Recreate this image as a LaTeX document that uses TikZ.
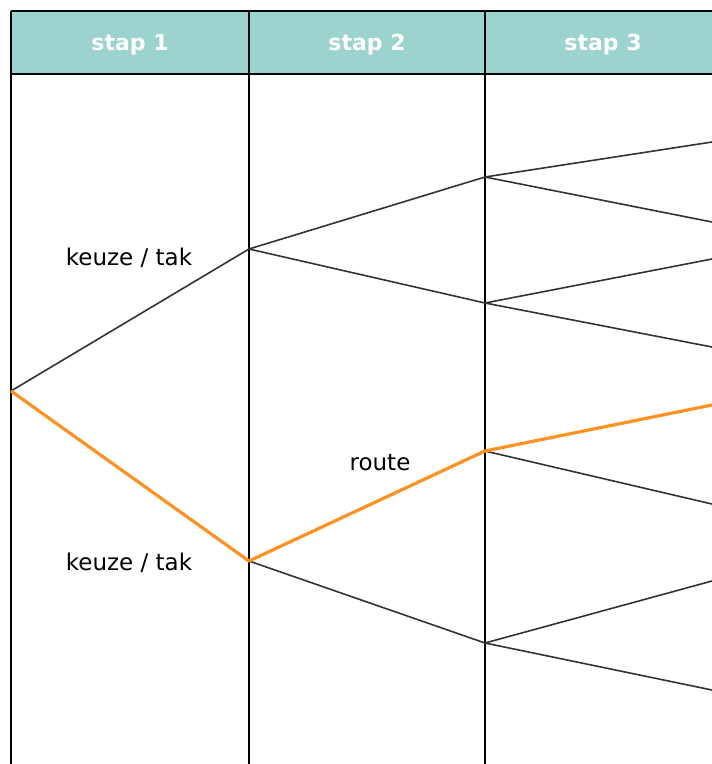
\documentclass[tikz,border=0pt]{standalone}
\usepackage{fontspec}
\setmainfont{DejaVu Sans}
\definecolor{kopkleur}{HTML}{9CD3CE}
\definecolor{oranje}{HTML}{FF9022}

\begin{document}
\begin{tikzpicture}[x=1pt,y=-1pt,
		tak/.style={line width=1.6pt,color=black!80},
		routetak/.style={line width=3.2pt,color=oranje},
		kopje/.style={text=white,font=\fontsize{22}{26}\selectfont\bfseries},
		label/.style={font=\fontsize{23}{27}\selectfont}]
		\useasboundingbox (0,0) rectangle (712,764);
		\clip (0,0) rectangle (712,764);
		% header
		\fill[kopkleur] (11,11) rectangle (722,74);
		\draw[line width=1.8pt] (11,11) -- (722,11);
		\draw[line width=1.8pt] (11,74) -- (722,74);
		% columns
		\foreach \x in {11,249,485}
			\draw[line width=1.8pt] (\x,11) -- (\x,764);
		\node[kopje] (kop1) at (130,45) {stap 1};
		\node[kopje] (kop2) at (367,45) {stap 2};
		\node[kopje] (kop3) at (603,45) {stap 3};
		
		% branch points
		\coordinate (s0) at (11,391);
		\coordinate (a1) at (249,249);
		\coordinate (a2) at (249,561);
		\coordinate (b1) at (485,177);
		\coordinate (b2) at (485,303);
		\coordinate (b3) at (485,451);
		\coordinate (b4) at (485,643);
		% loose ends at the right
		\coordinate (e1) at (712,142);
		\coordinate (e2) at (712,222);
		\coordinate (e3) at (712,259);
		\coordinate (e4) at (712,347);
		\coordinate (e5) at (712,405);
		\coordinate (e6) at (712,504);
		\coordinate (e7) at (712,581);
		\coordinate (e8) at (712,690);
		
		% tree
		\draw[tak] (s0) -- (a1);
		\draw[tak] (a1) -- (b1);
		\draw[tak] (a1) -- (b2);
		\draw[tak] (a2) -- (b4);
		\draw[tak] (b1) -- (e1);
		\draw[tak] (b1) -- (e2);
		\draw[tak] (b2) -- (e3);
		\draw[tak] (b2) -- (e4);
		\draw[tak] (b3) -- (e6);
		\draw[tak] (b4) -- (e7);
		\draw[tak] (b4) -- (e8);
		% the route
		\draw[routetak,line join=round] (s0) -- (a2) -- (b3) -- (e5);
		
		% labels
		\node[label] (keuze1) at (129,258) {keuze / tak};
		\node[label] (keuze2) at (129,563) {keuze / tak};
		\node[label] (route) at (380,463) {route};
\end{tikzpicture}
\end{document}
